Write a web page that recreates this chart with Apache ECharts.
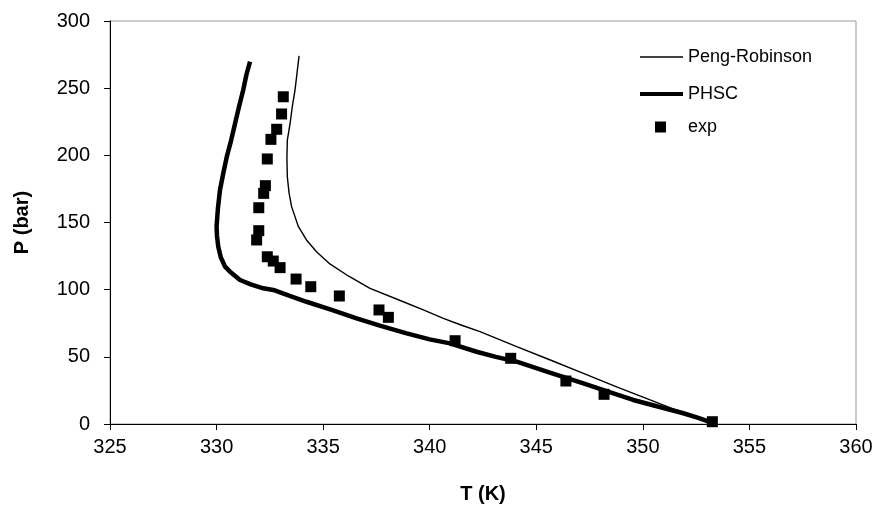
<!DOCTYPE html>
<html>
<head>
  <meta charset="UTF-8">
  <title>P-T diagram</title>
  <script src="https://cdn.jsdelivr.net/npm/echarts@6/dist/echarts.min.js"></script>
  <style>
    html, body { margin: 0; padding: 0; background: #fff; }
    #chart { width: 880px; height: 514px; }
  </style>
</head>
<body>
  <div id="chart"></div>
  <script>
// curves, [T (K), P (bar)]
const pengRobinson = [
  [333.87, 274], [333.78, 262], [333.68, 248.6], [333.55, 236], [333.45, 223.8],
  [333.32, 211.4], [333.3, 198], [333.32, 184], [333.4, 172], [333.52, 161.8],
  [333.84, 146.9], [334.22, 137], [334.7, 128], [335.28, 119.6], [336.2, 110],
  [337.2, 101], [338.76, 91], [339.7, 85], [340.64, 78.7], [341.5, 73.5],
  [342.36, 68.7], [344.08, 57.6], [345.6, 48], [347.21, 37.7], [348.8, 27.5],
  [350.34, 17.9], [351.3, 12], [352.3, 6], [353.2, 0.5]
]
const phsc = [
  [331.57, 269.7], [331.4, 260], [331.25, 248.6], [331.05, 236], [330.87, 223.8],
  [330.68, 211], [330.48, 199], [330.32, 187], [330.16, 174.2], [330.06, 160],
  [330.0, 146.9], [330.02, 140], [330.08, 132], [330.2, 124], [330.4, 117.1],
  [330.63, 113.4], [331.1, 107.2], [331.6, 104], [332.19, 101], [332.66, 99.8],
  [333.4, 95.5], [334.22, 91], [335.4, 85], [336.57, 78.7], [337.7, 73],
  [338.92, 67.5], [340.0, 63], [340.95, 60], [342.2, 53.8], [343.1, 50],
  [344.08, 46.4], [345.6, 38.5], [347.21, 30.3], [348.4, 24], [349.55, 17.9],
  [350.7, 13], [351.9, 8], [352.6, 4.5], [353.23, 1]
]
const expPoints = [
  [333.13, 243.6], [333.05, 230.8], [332.82, 219.4], [332.55, 211.9], [332.38, 197.3],
  [332.29, 177.4], [332.21, 171.7], [331.98, 161], [331.98, 143.9], [331.88, 137],
  [332.38, 124.5], [332.66, 121.3], [332.98, 116.4], [333.73, 107.9], [334.42, 102.2],
  [335.76, 95.3], [337.62, 84.9], [338.06, 79.4], [341.19, 62], [343.8, 48.9],
  [346.39, 32], [348.18, 22.1], [353.26, 1.7]
]

const font = 'Liberation Sans, Arial, sans-serif'
const legendText = { fontSize: 18, fontFamily: font, color: '#000' }

const chart = echarts.init(document.getElementById('chart'))
chart.setOption({
  animation: false,
  textStyle: { fontFamily: font, color: '#000' },
  grid: {
    left: 110, right: 24, top: 21, bottom: 90,
    show: true, borderColor: '#999', borderWidth: 1
  },
  // one legend per entry so each sample gets its own size
  legend: [
    {
      data: ['Peng-Robinson'], icon: 'rect', padding: 0,
      left: 640, top: 48, itemWidth: 43, itemHeight: 1.5,
      textStyle: legendText
    },
    {
      data: ['PHSC'], icon: 'rect', padding: 0,
      left: 640, top: 85, itemWidth: 43, itemHeight: 4,
      textStyle: legendText
    },
    {
      data: ['exp'], icon: 'rect', padding: 0,
      left: 655, top: 118, itemWidth: 11, itemHeight: 11,
      itemStyle: { opacity: 1 },
      formatter: name => '{p|' + name + '}',
      textStyle: Object.assign({}, legendText, {
        rich: { p: { fontSize: 18, fontFamily: font, color: '#000', padding: [0, 0, 0, 17] } }
      })
    }
  ],
  xAxis: {
    type: 'value', min: 325, max: 360, interval: 5,
    name: 'T (K)', nameLocation: 'middle', nameGap: 60,
    nameTextStyle: { fontSize: 20, fontWeight: 'bold', fontFamily: font, color: '#000' },
    axisLine: { onZero: false, lineStyle: { color: '#000', width: 1 } },
    axisTick: { inside: false, length: 6, lineStyle: { color: '#000' } },
    axisLabel: { fontSize: 20, margin: 13, color: '#000', fontFamily: font },
    splitLine: { show: false }
  },
  yAxis: {
    type: 'value', min: 0, max: 300, interval: 50,
    name: 'P (bar)', nameLocation: 'middle', nameGap: 78,
    nameTextStyle: { fontSize: 20, fontWeight: 'bold', fontFamily: font, color: '#000' },
    axisLine: { show: true, lineStyle: { color: '#000', width: 1 } },
    axisTick: { show: true, inside: false, length: 6, lineStyle: { color: '#000' } },
    axisLabel: { fontSize: 20, margin: 20, color: '#000', fontFamily: font },
    splitLine: { show: false }
  },
  series: [
    {
      name: 'Peng-Robinson', type: 'line', data: pengRobinson,
      symbol: 'none',
      lineStyle: { color: '#000', width: 1.4 },
      itemStyle: { color: '#000' }
    },
    {
      name: 'PHSC', type: 'line', data: phsc,
      symbol: 'none',
      lineStyle: { color: '#000', width: 4.5 },
      itemStyle: { color: '#000' }
    },
    {
      name: 'exp', type: 'scatter', data: expPoints,
      symbol: 'rect', symbolSize: 11, z: 3,
      itemStyle: { color: '#000', opacity: 1 }
    }
  ]
})
  </script>
</body>
</html>
